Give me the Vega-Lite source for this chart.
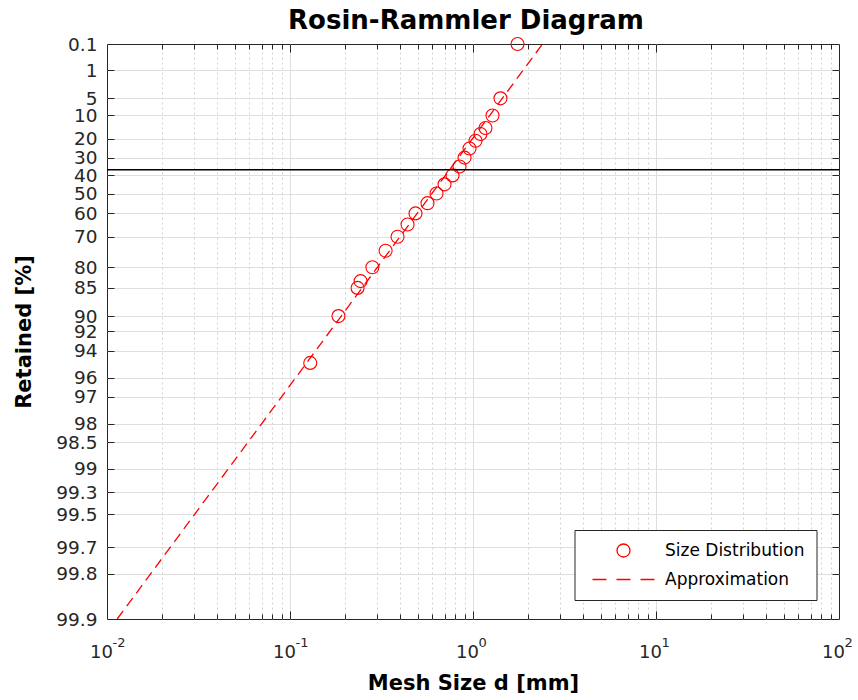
{
  "$schema": "https://vega.github.io/schema/vega-lite/v6.json",
  "width": 732,
  "height": 575,
  "autosize": {"type": "none"},
  "padding": {"left": 107, "top": 44, "right": 19, "bottom": 81},
  "background": "white",
  "title": {
    "text": "Rosin-Rammler Diagram",
    "font": "DejaVu Sans",
    "fontSize": 26,
    "fontWeight": "bold",
    "color": "#000000",
    "anchor": "middle",
    "baseline": "alphabetic",
    "offset": 13,
    "dx": -7,
    "dy": 33
  },
  "datasets": {
    "measured": [
      {"d": 1.751, "retained": 0.1, "rr": 1.93264},
      {"d": 1.413, "retained": 5, "rr": 1.09719},
      {"d": 1.278, "retained": 10, "rr": 0.83403},
      {"d": 1.170, "retained": 15, "rr": 0.64034},
      {"d": 1.099, "retained": 17.7, "rr": 0.54905},
      {"d": 1.032, "retained": 21, "rr": 0.44510},
      {"d": 0.957, "retained": 25, "rr": 0.32663},
      {"d": 0.899, "retained": 30, "rr": 0.18563},
      {"d": 0.844, "retained": 35, "rr": 0.04862},
      {"d": 0.773, "retained": 40, "rr": -0.08742},
      {"d": 0.699, "retained": 45, "rr": -0.22500},
      {"d": 0.632, "retained": 50, "rr": -0.36651},
      {"d": 0.564, "retained": 55, "rr": -0.51443},
      {"d": 0.485, "retained": 60, "rr": -0.67173},
      {"d": 0.439, "retained": 65, "rr": -0.84216},
      {"d": 0.387, "retained": 70, "rr": -1.03093},
      {"d": 0.333, "retained": 75, "rr": -1.24590},
      {"d": 0.282, "retained": 80, "rr": -1.49994},
      {"d": 0.243, "retained": 83.5, "rr": -1.71300},
      {"d": 0.234, "retained": 85, "rr": -1.81696},
      {"d": 0.184, "retained": 90, "rr": -2.25037},
      {"d": 0.129, "retained": 95, "rr": -2.97020}
    ],
    "fit": [
      {"d": 0.01137, "retained": 99.9, "rr": -6.90726},
      {"d": 2.398, "retained": 0.1, "rr": 1.93264}
    ],
    "reference": [
      {"retained": 36.79, "rr": 0}
    ]
  },
  "layer": [
    {
      "data": {"name": "fit"},
      "mark": {"type": "line", "strokeWidth": 1.3, "strokeDash": [10, 6]},
      "encoding": {
        "x": {
          "field": "d", "type": "quantitative",
          "scale": {"type": "log", "domain": [0.01, 100], "nice": false},
          "axis": {
            "orient": "bottom", "values": [0.01, 0.1, 1, 10, 100],
            "labelExpr": "'10'", "ticks": false, "grid": false, "domain": false,
            "labelFontSize": 18, "labelBaseline": "alphabetic", "labelAlign": "center",
            "labelPadding": 38, "labelOffset": -6, "labelAngle": 0,
            "title": "Mesh Size d [mm]", "titleFontSize": 21, "titleFontWeight": "bold",
            "titleColor": "#000000", "titleBaseline": "alphabetic", "titleY": 70
          }
        },
        "y": {
          "field": "rr", "type": "quantitative",
          "scale": {"domain": [-6.90726, 1.93264], "nice": false, "zero": false},
          "axis": {
            "orient": "left",
            "values": [1.93264, 1.52718, 1.09719, 0.83403, 0.47588, 0.18563, -0.08742, -0.36651, -0.67173, -1.03093, -1.49994, -1.81696, -2.25037, -2.48433, -2.78263, -3.19853, -3.49137, -3.90194, -4.19211, -4.60015, -4.95833, -5.29582, -5.80764, -6.21361, -6.90726],
            "labelExpr": "'' + round(1000 * exp(-exp(datum.value))) / 10",
            "ticks": false, "grid": false, "domain": false,
            "labelFontSize": 18.5, "labelPadding": 10, "labelAlign": "right", "labelBaseline": "middle",
            "title": "Retained [%]", "titleFontSize": 21, "titleFontWeight": "bold",
            "titleColor": "#000000", "titleBaseline": "alphabetic", "titleX": -77, "titleAngle": -90
          }
        },
        "color": {
          "datum": "Approximation", "type": "nominal",
          "scale": {"domain": ["Size Distribution", "Approximation"], "range": ["#ff0000", "#ff0000"]},
          "legend": {
            "title": null, "orient": "none", "legendX": 467.5, "legendY": 486,
            "direction": "vertical", "padding": 12,
            "fillColor": "#ffffff", "strokeColor": "#262626", "cornerRadius": 0,
            "labelFont": "DejaVu Sans", "labelFontSize": 17, "labelColor": "#000000",
            "labelOffset": 33, "symbolOffset": 28.5, "rowPadding": 10,
            "symbolSize": 169, "symbolStrokeWidth": 1.3, "symbolStrokeColor": "#ff0000"
          }
        }
      }
    },
    {
      "data": {"name": "measured"},
      "mark": {"type": "point", "filled": false, "size": 169, "strokeWidth": 1.1, "opacity": 1},
      "encoding": {
        "x": {
          "field": "d", "type": "quantitative",
          "scale": {"type": "log", "domain": [0.01, 100], "nice": false},
          "axis": {
            "orient": "bottom", "values": [0.01, 0.1, 1, 10, 100],
            "labelExpr": "'' + round(log(datum.value) / LN10)",
            "ticks": false, "grid": false, "domain": false,
            "labelFontSize": 13, "labelBaseline": "alphabetic", "labelAlign": "left",
            "labelPadding": 27, "labelOffset": 5, "labelAngle": 0, "title": null
          }
        },
        "y": {
          "field": "rr", "type": "quantitative",
          "scale": {"domain": [-6.90726, 1.93264], "nice": false, "zero": false},
          "axis": {
            "orient": "right",
            "values": [1.52718, 1.09719, 0.83403, 0.47588, 0.18563, -0.08742, -0.36651, -0.67173, -1.03093, -1.49994, -1.81696, -2.25037, -2.48433, -2.78263, -3.19853, -3.49137, -3.90194, -4.19211, -4.60015, -4.95833, -5.29582, -5.80764, -6.21361],
            "labels": false, "ticks": true, "tickSize": -7, "grid": true, "domain": false, "title": null
          }
        },
        "color": {"datum": "Size Distribution", "type": "nominal"},
        "shape": {
          "datum": "Size Distribution", "type": "nominal",
          "scale": {"domain": ["Size Distribution", "Approximation"], "range": ["circle", "M-4.77,0H-2.62M-1.08,0H1.08M2.62,0H4.77"]},
          "legend": {
            "title": null, "orient": "none", "legendX": 467.5, "legendY": 486,
            "direction": "vertical", "padding": 12,
            "fillColor": "#ffffff", "strokeColor": "#262626", "cornerRadius": 0,
            "labelFont": "DejaVu Sans", "labelFontSize": 17, "labelColor": "#000000",
            "labelOffset": 33, "symbolOffset": 28.5, "rowPadding": 10,
            "symbolSize": 169, "symbolStrokeWidth": 1.3, "symbolStrokeColor": "#ff0000"
          }
        }
      }
    },
    {
      "data": {"name": "measured"},
      "mark": {"type": "point", "opacity": 0},
      "encoding": {
        "x": {
          "field": "d", "type": "quantitative",
          "scale": {"type": "log", "domain": [0.01, 100], "nice": false},
          "axis": {
            "orient": "bottom", "values": [0.1, 1, 10],
            "labels": false, "ticks": true, "tickSize": -8, "grid": false, "domain": false, "title": null
          }
        },
        "y": {
          "field": "rr", "type": "quantitative",
          "scale": {"domain": [-6.90726, 1.93264], "nice": false, "zero": false},
          "axis": {
            "orient": "left",
            "values": [1.52718, 1.09719, 0.83403, 0.47588, 0.18563, -0.08742, -0.36651, -0.67173, -1.03093, -1.49994, -1.81696, -2.25037, -2.48433, -2.78263, -3.19853, -3.49137, -3.90194, -4.19211, -4.60015, -4.95833, -5.29582, -5.80764, -6.21361],
            "labels": false, "ticks": true, "tickSize": -7, "grid": false, "domain": false, "title": null
          }
        }
      }
    },
    {
      "data": {"name": "measured"},
      "mark": {"type": "point", "opacity": 0},
      "encoding": {
        "x": {
          "field": "d", "type": "quantitative",
          "scale": {"type": "log", "domain": [0.01, 100], "nice": false},
          "axis": {
            "orient": "bottom",
            "values": [0.02, 0.03, 0.04, 0.05, 0.06, 0.07, 0.08, 0.09, 0.2, 0.3, 0.4, 0.5, 0.6, 0.7, 0.8, 0.9, 2, 3, 4, 5, 6, 7, 8, 9, 20, 30, 40, 50, 60, 70, 80, 90],
            "labels": false, "ticks": true, "tickSize": -5, "grid": true,
            "gridColor": "#d2d2d2", "gridDash": [2, 3], "domain": false, "title": null
          }
        }
      }
    },
    {
      "data": {"name": "measured"},
      "mark": {"type": "point", "opacity": 0},
      "encoding": {
        "x": {
          "field": "d", "type": "quantitative",
          "scale": {"type": "log", "domain": [0.01, 100], "nice": false},
          "axis": {
            "orient": "top", "values": [0.1, 1, 10],
            "labels": false, "ticks": true, "tickSize": -8, "grid": true, "domain": false, "title": null
          }
        }
      }
    },
    {
      "data": {"name": "measured"},
      "mark": {"type": "point", "opacity": 0},
      "encoding": {
        "x": {
          "field": "d", "type": "quantitative",
          "scale": {"type": "log", "domain": [0.01, 100], "nice": false},
          "axis": {
            "orient": "top",
            "values": [0.02, 0.03, 0.04, 0.05, 0.06, 0.07, 0.08, 0.09, 0.2, 0.3, 0.4, 0.5, 0.6, 0.7, 0.8, 0.9, 2, 3, 4, 5, 6, 7, 8, 9, 20, 30, 40, 50, 60, 70, 80, 90],
            "labels": false, "ticks": true, "tickSize": -5, "grid": false, "domain": false, "title": null
          }
        }
      }
    },
    {
      "data": {"name": "reference"},
      "mark": {"type": "rule", "color": "#000000", "strokeWidth": 1.5},
      "encoding": {
        "y": {
          "field": "rr", "type": "quantitative",
          "scale": {"domain": [-6.90726, 1.93264], "nice": false, "zero": false},
          "axis": null
        }
      }
    }
  ],
  "resolve": {"axis": {"x": "independent", "y": "independent"}},
  "config": {
    "view": {"stroke": "#262626", "strokeWidth": 1},
    "font": "DejaVu Sans",
    "axis": {
      "labelFont": "DejaVu Sans",
      "titleFont": "DejaVu Sans",
      "labelColor": "#262626",
      "tickColor": "#262626",
      "tickWidth": 1,
      "gridColor": "#dedede",
      "gridWidth": 1,
      "labelOverlap": false,
      "labelFlush": false,
      "labelBound": false
    }
  }
}
